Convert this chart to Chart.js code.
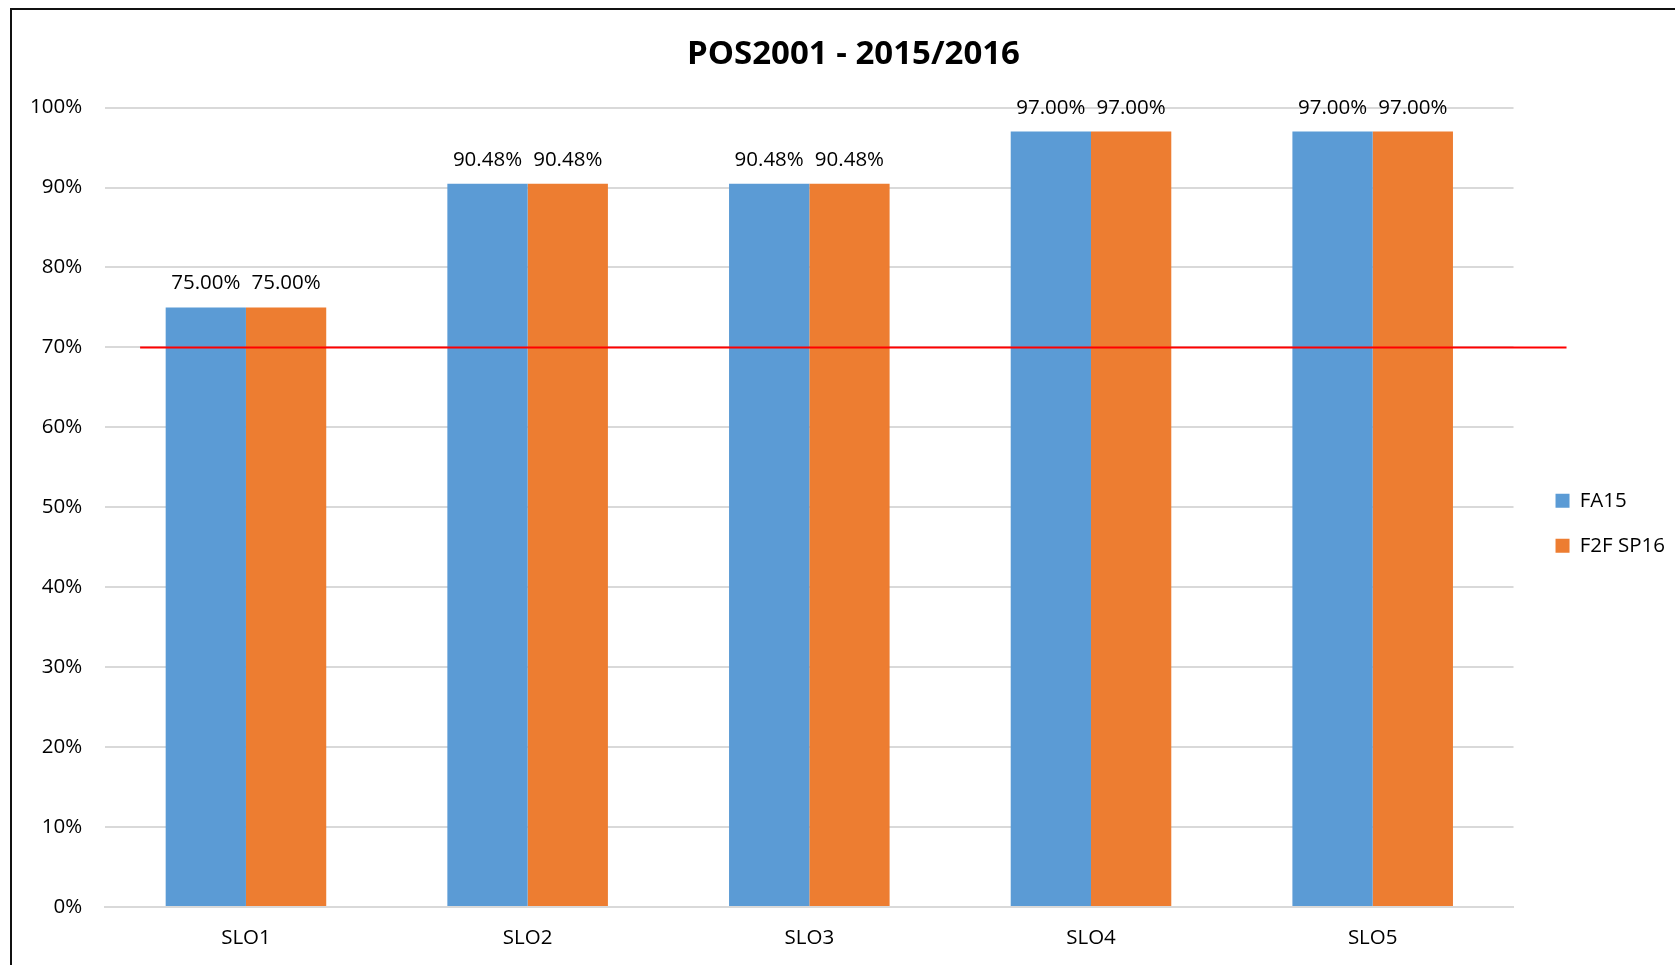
<!DOCTYPE html>
<html>
<head>
<meta charset="utf-8">
<script src="https://cdn.jsdelivr.net/npm/chart.js@4.4.1/dist/chart.umd.min.js"></script>
<style>
  html, body { margin: 0; padding: 0; background: #fff; }
  #wrap { position: relative; width: 1675px; height: 965px; overflow: hidden; }
  #frame { position: absolute; left: 10px; top: 8px; width: 1700px; height: 1000px;
           border-top: 2px solid #111; border-left: 2px solid #111; pointer-events: none; }
  canvas { position: absolute; left: 0; top: 0; }
</style>
</head>
<body>
<div id="wrap">
  <canvas id="sloChart" width="1675" height="965"></canvas>
  <div id="frame"></div>
</div>
<script>
// data
const categories = ["SLO1", "SLO2", "SLO3", "SLO4", "SLO5"];
const fa15 = [75.00, 90.48, 90.48, 97.00, 97.00];
const f2fSp16 = [75.00, 90.48, 90.48, 97.00, 97.00];
const target = 70;
const yTicks = [0, 10, 20, 30, 40, 50, 60, 70, 80, 90, 100];

const FONT = "'Open Sans', 'Liberation Sans', sans-serif";

// value labels above each bar
const barLabels = {
  id: "barLabels",
  afterDatasetsDraw(chart) {
    const ctx = chart.ctx;
    ctx.save();
    ctx.font = "20.5px " + FONT;
    ctx.fillStyle = "#000";
    ctx.textAlign = "center";
    ctx.textBaseline = "alphabetic";
    chart.data.datasets.forEach((ds, i) => {
      chart.getDatasetMeta(i).data.forEach((bar, j) => {
        ctx.fillText(ds.data[j].toFixed(2) + "%", bar.x, bar.y - 18);
      });
    });
    ctx.restore();
  }
};

// red 70% target line
const targetLine = {
  id: "targetLine",
  afterDatasetsDraw(chart) {
    const { ctx, chartArea, scales } = chart;
    const y = scales.y.getPixelForValue(target);
    ctx.save();
    ctx.strokeStyle = "#ff0000";
    ctx.lineWidth = 2;
    ctx.beginPath();
    ctx.moveTo(chartArea.left + 35, y);
    ctx.lineTo(chartArea.right + 53, y);
    ctx.stroke();
    ctx.restore();
  }
};

// title sits a bit right of the canvas centre (original frame is wider than the crop)
const titleShift = {
  id: "titleShift",
  afterLayout(chart) {
    if (chart.titleBlock) chart.titleBlock.right += 25;
  }
};

new Chart(document.getElementById("sloChart"), {
  type: "bar",
  data: {
    labels: categories,
    datasets: [
      { label: "FA15", data: fa15, backgroundColor: "#5B9BD5" },
      { label: "F2F SP16", data: f2fSp16, backgroundColor: "#ED7D31" },
    ],
  },
  options: {
    responsive: false,
    animation: false,
    devicePixelRatio: 1,
    categoryPercentage: 0.57,
    barPercentage: 1.0,
    layout: { padding: { left: 7, right: 0, top: 0, bottom: 0 } },
    plugins: {
      title: {
        display: true,
        text: "POS2001 - 2015/2016",
        color: "#000",
        font: { family: FONT, size: 33, weight: "bold" },
        padding: { top: 35, bottom: 33 },
      },
      legend: {
        position: "right",
        fullSize: false,
        title: { display: true, text: "", font: { size: 10 }, padding: { top: 10, bottom: 10 } },
        labels: {
          boxWidth: 14,
          boxHeight: 14,
          padding: 24.5,
          color: "#000",
          font: { family: FONT, size: 20.5 },
        },
      },
      tooltip: { enabled: false },
    },
    scales: {
      x: {
        grid: { display: false, drawTicks: false },
        border: { display: true, color: "#d9d9d9", width: 2 },
        ticks: { color: "#000", font: { family: FONT, size: 20.5 }, padding: 19 },
        afterFit: s => { s.height = 58; },
      },
      y: {
        min: 0,
        max: 100,
        afterBuildTicks: axis => { axis.ticks = yTicks.map(v => ({ value: v })); },
        grid: { color: "#d9d9d9", lineWidth: 2, drawTicks: false },
        border: { display: false },
        ticks: {
          color: "#000",
          font: { family: FONT, size: 20.5 },
          padding: 23,
          callback: v => v + "%",
        },
      },
      gap: {
        type: "linear",
        position: "right",
        display: true,
        grid: { display: false, drawTicks: false },
        border: { display: false },
        ticks: { display: false },
        afterFit: s => { s.width = 17.5; },
      },
    },
  },
  plugins: [barLabels, targetLine, titleShift],
});
</script>
</body>
</html>
